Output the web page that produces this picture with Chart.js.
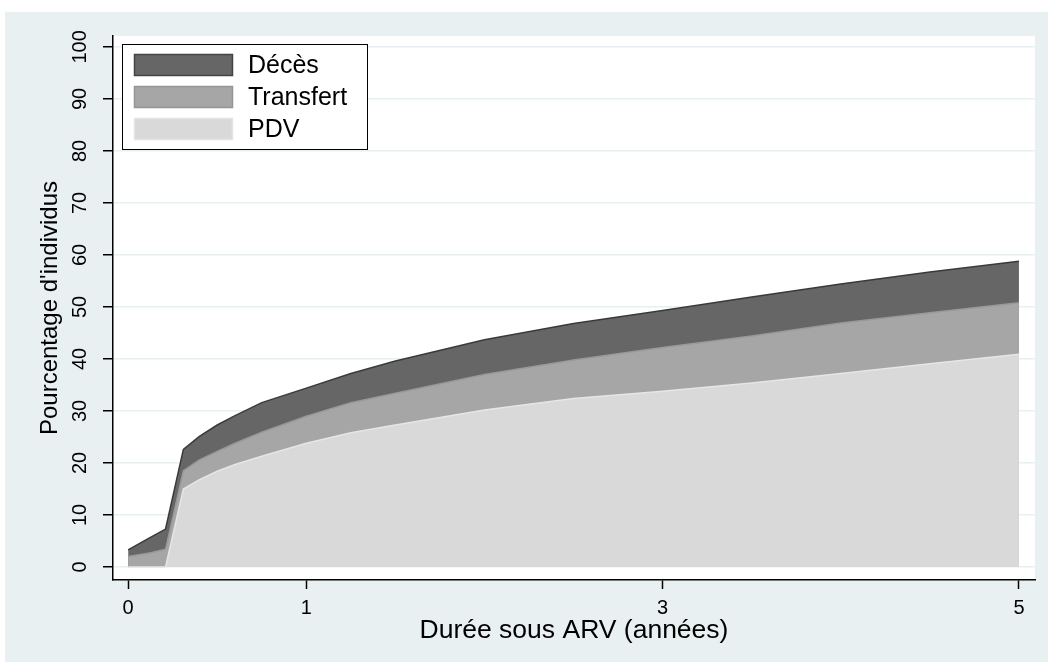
<!DOCTYPE html>
<html lang="fr">
<head>
<meta charset="utf-8">
<title>Pourcentage d'individus selon la durée sous ARV</title>
<script src="https://cdn.jsdelivr.net/npm/chart.js@4.4.1/dist/chart.umd.min.js"></script>
<style>
  html, body { margin: 0; padding: 0; background: #ffffff; }
  #wrap { width: 1048px; height: 662px; }
</style>
</head>
<body>
<div id="wrap"><canvas id="chart" width="1048" height="662"></canvas></div>
<script>
// ========================================
// Données (courbes cumulées, en %)
// ========================================
const annees = [0, 0.12, 0.21, 0.31, 0.4, 0.5, 0.6, 0.75, 1, 1.25, 1.5, 2, 2.5, 3, 3.5, 4, 4.5, 5];

// PDV seul
const pdv       = [0, 0, 0, 15.0, 16.8, 18.4, 19.7, 21.3, 23.8, 25.8, 27.3, 30.2, 32.4, 33.8, 35.4, 37.2, 39.1, 40.9];
// PDV + Transfert
const transfert = [2.0, 2.7, 3.4, 18.5, 20.6, 22.2, 23.8, 25.9, 29.0, 31.6, 33.4, 37.0, 39.8, 42.2, 44.4, 46.9, 48.9, 50.8];
// PDV + Transfert + Décès
const deces     = [3.3, 5.6, 7.3, 22.6, 25.1, 27.3, 29.1, 31.6, 34.4, 37.2, 39.6, 43.7, 46.8, 49.3, 51.9, 54.4, 56.7, 58.8];

const xTicks = [0, 1, 3, 5];
const yTicks = [0, 10, 20, 30, 40, 50, 60, 70, 80, 90, 100];

const FONT = 'Liberation Sans, Arial, Helvetica, sans-serif';

function toPoints(values) {
  return annees.map((x, i) => ({ x: x, y: values[i] }));
}

// ========================================
// Fond (style Stata)
// ========================================
const fondPlugin = {
  id: 'fond',
  beforeDraw(chart) {
    const { ctx, chartArea } = chart;
    ctx.save();
    ctx.fillStyle = '#ffffff';
    ctx.fillRect(0, 0, chart.width, chart.height);
    ctx.fillStyle = '#e9f0f2';
    ctx.fillRect(5, 12, chart.width - 5, chart.height - 12);
    ctx.fillStyle = '#ffffff';
    ctx.fillRect(chartArea.left, chartArea.top, chartArea.right - chartArea.left, chartArea.bottom - chartArea.top);
    ctx.restore();
  }
};

// ========================================
// Légende encadrée dans la zone du graphique
// ========================================
const legendeBoxPlugin = {
  id: 'legendeBox',
  afterDraw(chart) {
    const { ctx } = chart;
    const sets = chart.data.datasets.slice().reverse();
    const bx = 122, by = 44, bw = 245, bh = 105;
    ctx.save();
    ctx.fillStyle = '#ffffff';
    ctx.fillRect(bx, by, bw, bh);
    ctx.strokeStyle = '#000000';
    ctx.lineWidth = 1;
    ctx.strokeRect(bx + 0.5, by + 0.5, bw, bh);
    ctx.font = '25px ' + FONT;
    ctx.textBaseline = 'middle';
    ctx.textAlign = 'left';
    sets.forEach((ds, i) => {
      const y = by + 10 + i * 32;
      ctx.fillStyle = ds.backgroundColor;
      ctx.fillRect(134, y, 99, 22);
      ctx.strokeStyle = ds.swatchBorder;
      ctx.lineWidth = 1.5;
      ctx.strokeRect(134.5, y + 0.5, 98, 21);
      ctx.fillStyle = '#000000';
      ctx.fillText(ds.label, 248, y + 12);
    });
    ctx.restore();
  }
};

const ctx = document.getElementById('chart').getContext('2d');

new Chart(ctx, {
  type: 'line',
  data: {
    datasets: [
      {
        label: 'PDV',
        data: toPoints(pdv),
        borderColor: '#e6e6e6',
        backgroundColor: '#d9d9d9',
        swatchBorder: '#e4e4e4',
        borderWidth: 1.5,
        fill: 'origin',
        pointRadius: 0,
        tension: 0
      },
      {
        label: 'Transfert',
        data: toPoints(transfert),
        borderColor: '#999999',
        backgroundColor: '#a6a6a6',
        swatchBorder: '#959595',
        borderWidth: 1.5,
        fill: 'origin',
        pointRadius: 0,
        tension: 0
      },
      {
        label: 'Décès',
        data: toPoints(deces),
        borderColor: '#3a3a3a',
        backgroundColor: '#666666',
        swatchBorder: '#444444',
        borderWidth: 1.5,
        fill: 'origin',
        pointRadius: 0,
        tension: 0
      }
    ]
  },
  options: {
    responsive: false,
    devicePixelRatio: 1,
    animation: false,
    layout: {
      padding: { left: 5, top: 36, right: 13, bottom: 0 }
    },
    plugins: {
      legend: { display: false },
      tooltip: { enabled: false }
    },
    scales: {
      x: {
        type: 'linear',
        min: -0.085,
        max: 5.09,
        afterBuildTicks: (scale) => {
          scale.ticks = xTicks.map(v => ({ value: v }));
        },
        afterFit: (scale) => { scale.height = 82; },
        ticks: {
          font: { family: FONT, size: 20 },
          color: '#000000',
          padding: 7,
          maxRotation: 0,
          minRotation: 0
        },
        grid: {
          drawOnChartArea: false,
          drawTicks: true,
          tickLength: 9,
          tickColor: '#000000',
          tickWidth: 1.5
        },
        border: { color: '#000000', width: 1.5 },
        title: {
          display: true,
          text: 'Durée sous ARV (années)',
          color: '#000000',
          font: { family: FONT, size: 26.5 },
          padding: { top: 0, bottom: 15 }
        }
      },
      y: {
        type: 'linear',
        min: -2.5,
        max: 102.1,
        afterBuildTicks: (scale) => {
          scale.ticks = yTicks.map(v => ({ value: v }));
        },
        afterFit: (scale) => { scale.width = 108; },
        ticks: {
          font: { family: FONT, size: 20 },
          color: '#000000',
          padding: 6,
          minRotation: 90,
          maxRotation: 90,
          crossAlign: 'center'
        },
        grid: {
          color: '#e8f0f2',
          lineWidth: 1.5,
          drawTicks: true,
          tickLength: 10,
          tickColor: '#000000',
          tickWidth: 1.5
        },
        border: { color: '#000000', width: 1.5 },
        title: {
          display: true,
          text: "Pourcentage d'individus",
          color: '#000000',
          font: { family: FONT, size: 24 },
          padding: { top: 31, bottom: 0 }
        }
      }
    }
  },
  plugins: [fondPlugin, legendeBoxPlugin]
});
</script>
</body>
</html>
